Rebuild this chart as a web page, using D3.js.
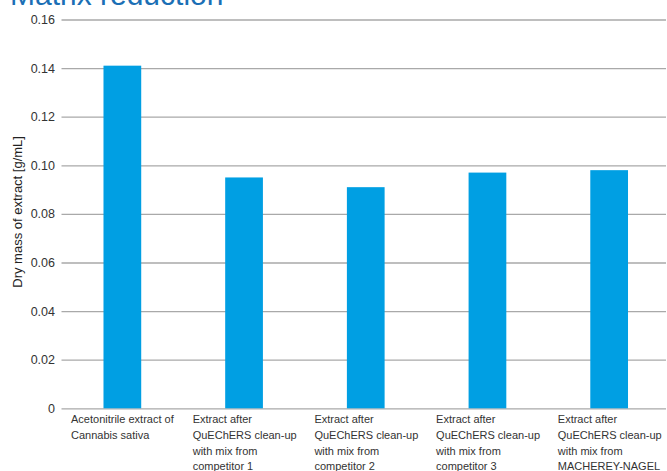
<!DOCTYPE html>
<html>
<head>
<meta charset="utf-8">
<script src="https://cdn.jsdelivr.net/npm/d3@7"></script>
<style>
  html, body { margin: 0; padding: 0; background: #fff; }
  svg { display: block; }
  text { font-family: "Liberation Sans", Arial, Helvetica, sans-serif; }
</style>
</head>
<body>
<script>
const title = "Matrix reduction";
const yAxisTitle = "Dry mass of extract [g/mL]";
const categories = [
  ["Acetonitrile extract of", "Cannabis sativa"],
  ["Extract after", "QuEChERS clean-up", "with mix from", "competitor 1"],
  ["Extract after", "QuEChERS clean-up", "with mix from", "competitor 2"],
  ["Extract after", "QuEChERS clean-up", "with mix from", "competitor 3"],
  ["Extract after", "QuEChERS clean-up", "with mix from", "MACHEREY-NAGEL"]
];
const values = [0.141, 0.095, 0.091, 0.097, 0.098];
const yTicks = [0, 0.02, 0.04, 0.06, 0.08, 0.10, 0.12, 0.14, 0.16];
const yTickLabels = ["0", "0.02", "0.04", "0.06", "0.08", "0.10", "0.12", "0.14", "0.16"];

(function () {
const W = 667, H = 471;
const mLeft = 61.5, mRight = 670, gridRight = 666, mTop = 19.5, mBottom = 408.3;

const svg = d3.select("body").append("svg").attr("width", W).attr("height", H);

const ids = categories.map((c, i) => i);
const x = d3.scaleBand().domain(ids).range([mLeft, mRight]).padding(0);
const y = d3.scaleLinear().domain([0, 0.16]).range([mBottom, mTop]);

// Gridlines / axis
const yAxis = d3.axisLeft(y)
  .tickValues(yTicks)
  .tickSize(-(gridRight - mLeft))
  .tickPadding(7)
  .tickFormat((d, i) => yTickLabels[i]);
const gy = svg.append("g").attr("transform", `translate(${mLeft},0)`).call(yAxis);
gy.select(".domain").remove();
gy.selectAll(".tick line").attr("stroke", "#a9a9a9").attr("stroke-width", 1.3);
gy.selectAll(".tick text")
  .attr("fill", "#333")
  .style("font-size", "12.5px")
  .attr("x", -6.5);

// Bars
const bw = x.bandwidth();
svg.append("g").selectAll("rect")
  .data(values)
  .join("rect")
  .attr("x", (d, i) => x(i) + bw * 0.345)
  .attr("width", bw * 0.31)
  .attr("y", d => y(d))
  .attr("height", d => y(0) - y(d))
  .attr("fill", "#009fe3");

// Category labels
const lab = svg.append("g").selectAll("text")
  .data(categories)
  .join("text")
  .attr("x", (d, i) => x(i) + 9.5)
  .attr("y", 423)
  .attr("fill", "#333")
  .style("font-size", "11px");
lab.each(function(lines, i) {
  d3.select(this).selectAll("tspan")
    .data(lines)
    .join("tspan")
    .attr("x", x(i) + 9.5)
    .attr("dy", (d, j) => j === 0 ? 0 : 15.8)
    .text(d => d);
});

// Y axis title
svg.append("text")
  .attr("transform", `translate(21.5,${(mTop + mBottom) / 2 - 2}) rotate(-90)`)
  .attr("text-anchor", "middle")
  .attr("fill", "#222")
  .style("font-size", "13px")
  .text(yAxisTitle);

// Title (partly cut off at top, as in the original)
svg.append("text")
  .attr("x", 10)
  .attr("y", 5)
  .attr("fill", "#1b6fb5")
  .style("font-size", "30px")
  .text(title);
})();
</script>
</body>
</html>
